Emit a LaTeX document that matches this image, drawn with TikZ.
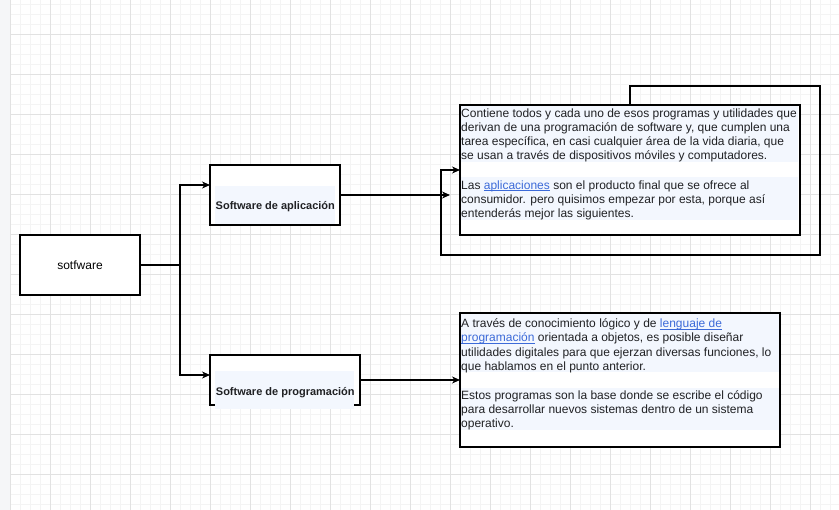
\documentclass[tikz,border=0pt]{standalone}
\usepackage{fontspec}
\setmainfont{Liberation Sans}
\usetikzlibrary{arrows.meta}
\definecolor{gridmajor}{HTML}{E2E2E2}
\definecolor{gridminor}{HTML}{F4F4F4}
\definecolor{sidebar}{HTML}{F5F6F8}
\definecolor{parabg}{HTML}{F3F7FE}
\definecolor{txt}{HTML}{202124}
\definecolor{linkc}{HTML}{3C6AD8}
\newcommand\lnk[1]{{\color{linkc}\setbox0\hbox{#1}\rlap{\rule[-1.9pt]{\wd0}{0.9pt}}\box0}}
\begin{document}
\begin{tikzpicture}[x=1pt,y=-1pt,
  box/.style={draw=black,line width=1.1pt,fill=white,inner sep=0pt,outer sep=0pt},
  arr/.style={draw=black,line width=1.1pt,-{Stealth[length=8pt,width=7pt,inset=2.5pt]}},
  para/.style={anchor=base west,inner sep=0pt,text=txt,font=\fontsize{12}{14}\selectfont},
  lbl/.style={anchor=base,inner sep=0pt,text=txt,font=\fontsize{11}{13}\selectfont\bfseries},
  bgfill/.style={fill=parabg,draw=none}]
\useasboundingbox (0,0) rectangle (839,510);
\fill[white] (0,0) rectangle (839,510);
% grid
\foreach \x in {10,20,...,830} \draw[gridminor,line width=1pt] (\x,0) -- (\x,510);
\foreach \y in {5,15,...,505} \draw[gridminor,line width=1pt] (10,\y) -- (839,\y);
\foreach \x in {10,50,...,810} \draw[gridmajor,line width=1pt] (\x,0) -- (\x,510);
\foreach \y in {35,75,...,475} \draw[gridmajor,line width=1pt] (10,\y) -- (839,\y);
\fill[sidebar] (0,0) rectangle (10,510);
\draw[gridmajor,line width=0.6pt] (10,0) -- (10,510);

% nodes
\node[box,minimum width=120pt,minimum height=60pt,font=\fontsize{12}{14}\selectfont] (sw) at (80,265) {sotfware};
\node[box,minimum width=130pt,minimum height=60pt] (app) at (275,195) {};
\node[box,minimum width=150pt,minimum height=50pt] (prog) at (285,380) {};
\node[box,minimum width=340pt,minimum height=130pt] (t1) at (630,170) {};
\node[box,minimum width=320pt,minimum height=134pt] (t2) at (620,380) {};

% label backgrounds
\fill[bgfill] (215,186) rectangle (335,224);
\fill[bgfill] (215,371) rectangle (354,409);
\fill[bgfill] (461,106) rectangle (798,162.5);
\fill[bgfill] (461,177.5) rectangle (798,220.5);
\fill[bgfill] (461,314) rectangle (779,372.5);
\fill[bgfill] (461,388.5) rectangle (779,430.5);

\node[lbl] (applbl) at (275.3,210) {Software de aplicación};
\node[lbl] (proglbl) at (285.3,395.5) {Software de programación};

% paragraph text, box 1
\node[para] (p1a) at (461,117.3) {Contiene todos y cada uno de esos programas y utilidades que};
\node[para] (p1b) at (461,131.5) {derivan de una programación de software y, que cumplen una};
\node[para] (p1c) at (461,145.7) {tarea específica, en casi cualquier área de la vida diaria, que};
\node[para] (p1d) at (461,159.9) {se usan a través de dispositivos móviles y computadores.};
\node[para] (p1e) at (461,189.2) {Las \lnk{aplicaciones} son el producto final que se ofrece al};
\node[para] (p1f) at (461,203.4) {consumidor. pero quisimos empezar por esta, porque así};
\node[para] (p1g) at (461,217.6) {entenderás mejor las siguientes.};

% paragraph text, box 2
\node[para] (p2a) at (461,327.7) {A través de conocimiento lógico y de \lnk{lenguaje de}};
\node[para] (p2b) at (461,341.9) {\lnk{programación} orientada a objetos, es posible diseñar};
\node[para] (p2c) at (461,356.1) {utilidades digitales para que ejerzan diversas funciones, lo};
\node[para] (p2d) at (461,370.3) {que hablamos en el punto anterior.};
\node[para] (p2e) at (461,399.5) {Estos programas son la base donde se escribe el código};
\node[para] (p2f) at (461,413.7) {para desarrollar nuevos sistemas dentro de un sistema};
\node[para] (p2g) at (461,427.9) {operativo.};

% connectors
\draw[arr] (sw.east) -- ++(40,0) |- ([yshift=10pt]app.west);
\draw[arr] (sw.east) -- ++(40,0) |- ([yshift=5pt]prog.west);
\coordinate (appin) at (450,195);
\draw[arr] (app.east) -- (appin);
\coordinate (lpA) at (820,86);
\coordinate (lpB) at (441,255);
\draw[arr] (t1.north) |- (lpA) |- (lpB) |- (t1.west);
\draw[arr] (prog.east) -- (t2.west);
\end{tikzpicture}
\end{document}
